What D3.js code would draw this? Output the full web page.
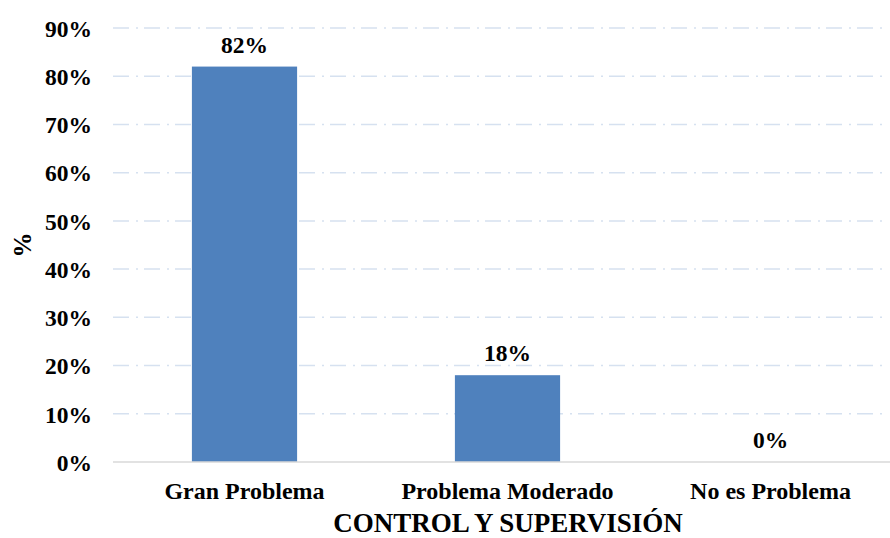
<!DOCTYPE html>
<html>
<head>
<meta charset="utf-8">
<script src="https://cdn.jsdelivr.net/npm/d3@7"></script>
<style>
  html, body { margin: 0; padding: 0; background: #fff; }
  svg text { font-family: "Liberation Serif", "Times New Roman", serif; font-weight: bold; fill: #000; }
</style>
</head>
<body>
<svg id="chart" width="890" height="538"></svg>
<script>
// Chart data
const categories = ["Gran Problema", "Problema Moderado", "No es Problema"];
const values = [82, 18, 0];
const yTicks = [0, 10, 20, 30, 40, 50, 60, 70, 80, 90];
const xTitle = "CONTROL Y SUPERVISIÓN";
const yTitle = "%";

const svg = d3.select("#chart");
const plot = { left: 113, right: 902, top: 28, bottom: 462 };

const x = d3.scaleBand()
  .domain(categories)
  .range([plot.left, plot.right])
  .paddingInner(0.6)
  .paddingOuter(0.3);

const y = d3.scaleLinear()
  .domain([0, 90])
  .range([plot.bottom, plot.top]);

// Horizontal gridlines (dash-dot)
svg.append("g")
  .selectAll("line")
  .data(yTicks.filter(t => t > 0))
  .join("line")
  .attr("x1", plot.left)
  .attr("x2", 888)
  .attr("y1", d => y(d))
  .attr("y2", d => y(d))
  .attr("stroke", "#d6e1f0")
  .attr("stroke-width", 1.5)
  .attr("stroke-dasharray", "16,7,2,6");

// Bars
svg.append("g")
  .selectAll("rect")
  .data(values)
  .join("rect")
  .attr("x", (d, i) => x(categories[i]))
  .attr("width", x.bandwidth())
  .attr("y", d => y(d))
  .attr("height", d => y(0) - y(d))
  .attr("fill", "#4f81bd");

// Baseline
svg.append("line")
  .attr("x1", plot.left)
  .attr("x2", 890)
  .attr("y1", y(0))
  .attr("y2", y(0))
  .attr("stroke", "#d9d9d9")
  .attr("stroke-width", 1.5);

// Y axis tick labels
const yAxis = d3.axisLeft(y)
  .tickValues(yTicks)
  .tickFormat(d => d + "%")
  .tickSize(0)
  .tickPadding(0);
const gy = svg.append("g")
  .attr("transform", `translate(92,0)`)
  .call(yAxis);
gy.attr("font-family", null).attr("font-size", null);
gy.select(".domain").remove();
gy.selectAll("text")
  .attr("font-size", 23.5)
  .attr("dy", "0.35em")
  .attr("fill", "#000");

// X axis category labels
const xAxis = d3.axisBottom(x).tickSize(0).tickPadding(0);
const gx = svg.append("g")
  .attr("transform", `translate(0,499)`)
  .call(xAxis);
gx.attr("font-family", null).attr("font-size", null);
gx.select(".domain").remove();
gx.selectAll("text")
  .attr("font-size", 24)
  .attr("y", 0)
  .attr("dy", 0)
  .attr("fill", "#000");

// Value labels
svg.append("g")
  .selectAll("text")
  .data(values)
  .join("text")
  .attr("x", (d, i) => x(categories[i]) + x.bandwidth() / 2)
  .attr("y", d => y(d) - 14)
  .attr("text-anchor", "middle")
  .attr("font-size", 23.5)
  .text(d => d + "%");

// Axis titles
svg.append("text")
  .attr("x", 508)
  .attr("y", 532)
  .attr("text-anchor", "middle")
  .attr("font-size", 27)
  .text(xTitle);

svg.append("text")
  .attr("transform", "translate(31,245) rotate(-90)")
  .attr("text-anchor", "middle")
  .attr("font-size", 25)
  .text(yTitle);
</script>
</body>
</html>
